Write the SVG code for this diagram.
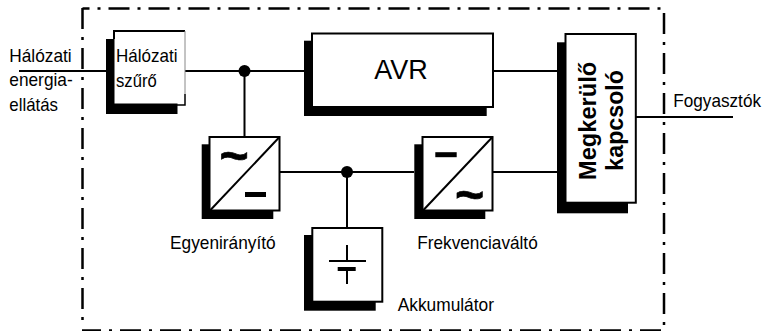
<svg xmlns="http://www.w3.org/2000/svg" width="772" height="331" viewBox="0 0 772 331">
<style>
text{font-family:"Liberation Sans",Arial,sans-serif;font-size:19px;fill:#000}
.t{font-size:50px;font-weight:bold;stroke:#000;stroke-width:0.700}
.v{font-size:24px;font-weight:bold}
.s{fill:#000;stroke:none}
.b{fill:#fff;stroke:#000;stroke-width:2}
.l{fill:none;stroke:#000;stroke-width:2}
.f{fill:none;stroke:#000;stroke-width:2.500;stroke-dasharray:21 8 3 8}
.m{fill:none;stroke:#000;stroke-width:5}
</style>
<rect width="772" height="331" fill="#fff"/>
<g id="frame">
<path class="f" d="M82.500 8.500H661" stroke-dashoffset="14"/>
<path class="f" d="M82.500 8V322"/>
<path class="f" d="M664 13V325"/>
<path class="f" d="M82 330.500H661" stroke-dashoffset="2"/>
</g>
<g id="connectors">
<path class="l" d="M19 71H106M185 71H304M493 71H557M244.500 71V137M280 172H414M492 172H557M347 172V228M636 117H733"/>
<circle cx="244.500" cy="71" r="6"/><circle cx="347" cy="172" r="6"/>
</g>
<g id="halozati-szuro"><rect class="s" x="106" y="39" width="71.500" height="75"/><rect x="114.500" y="31" width="70.500" height="72.500" fill="#fff"/><path d="M114 39V31H185" class="l"/><path d="M185 31V94" fill="none" stroke="#888" stroke-width="1"/><path d="M185 94V105H177" fill="none" stroke="#000" stroke-width="1.500"/><text x="116" y="61.700" textLength="61.500" lengthAdjust="spacingAndGlyphs">Hálózati</text><text x="116" y="87.300" textLength="40.700" lengthAdjust="spacingAndGlyphs">szűrő</text></g>
<g id="avr"><rect class="s" x="304" y="40.700" width="182.700" height="75.300"/><rect class="b" x="312" y="33.500" width="181" height="73.500"/><text x="401" y="79.300" text-anchor="middle" style="font-size:27px">AVR</text></g>
<g id="egyeniranyito"><rect class="s" x="201.700" y="144.300" width="71.600" height="74.700"/><rect class="b" x="209.500" y="137" width="70" height="73.500"/><path class="l" d="M210 210.500L279.500 137"/><path class="m" d="M245 194.500H266"/><text class="t" x="219.500" y="173">~</text><text x="170" y="249.300" textLength="105.700" lengthAdjust="spacingAndGlyphs">Egyenirányító</text></g>
<g id="frekvenciavalto"><rect class="s" x="414.300" y="144.300" width="71" height="74.700"/><rect class="b" x="422.500" y="137" width="70" height="73.500"/><path class="l" d="M423 210.500L492.500 137"/><path class="m" d="M435.300 154.700H456.700"/><text class="t" x="455" y="212">~</text><text x="417.300" y="249" textLength="120.400" lengthAdjust="spacingAndGlyphs">Frekvenciaváltó</text></g>
<g id="akkumulator"><rect class="s" x="304" y="235" width="71.700" height="75.700"/><rect class="b" x="312.300" y="228" width="70" height="73.700"/><path class="l" d="M347 245V261M329 261H366M347 269V284"/><path class="m" d="M337.700 269H355.700" style="stroke-width:4"/><text x="397.700" y="310.700" textLength="96.300" lengthAdjust="spacingAndGlyphs">Akkumulátor</text></g>
<g id="megkerulo"><rect class="s" x="557" y="42.300" width="71" height="171"/><rect class="b" x="565.500" y="34" width="70.300" height="168.700"/><text class="v" transform="translate(596 180) rotate(-90)" textLength="118.300" lengthAdjust="spacingAndGlyphs">Megkerülő</text><text class="v" transform="translate(623 170.700) rotate(-90)" textLength="100.700" lengthAdjust="spacingAndGlyphs">kapcsoló</text></g>
<g id="labels"><text x="9.300" y="61.700" textLength="62.400" lengthAdjust="spacingAndGlyphs">Hálózati</text><text x="9.300" y="86" textLength="63.400" lengthAdjust="spacingAndGlyphs">energia-</text><text x="9.300" y="110.700" textLength="48.700" lengthAdjust="spacingAndGlyphs">ellátás</text><text x="673.300" y="106.700" textLength="87.700" lengthAdjust="spacingAndGlyphs">Fogyasztók</text></g>
</svg>
